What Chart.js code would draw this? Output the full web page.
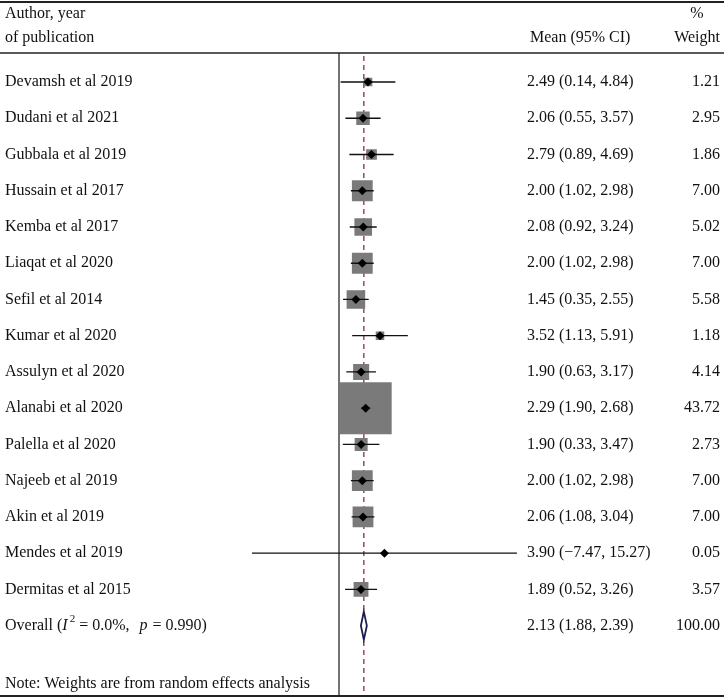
<!DOCTYPE html>
<html>
<head>
<meta charset="utf-8">
<script src="https://cdn.jsdelivr.net/npm/chart.js@4/dist/chart.umd.min.js"></script>
<style>
  body { margin: 0; background: #fff; }
  canvas { display: block; }
</style>
</head>
<body>
<canvas id="forest" width="724" height="699"></canvas>
<script>
const authors = [
  'Devamsh et al 2019', 'Dudani et al 2021', 'Gubbala et al 2019', 'Hussain et al 2017',
  'Kemba et al 2017', 'Liaqat et al 2020', 'Sefil et al 2014', 'Kumar et al 2020',
  'Assulyn et al 2020', 'Alanabi et al 2020', 'Palella et al 2020', 'Najeeb et al 2019',
  'Akin et al 2019', 'Mendes et al 2019', 'Dermitas et al 2015',
];
const means = [2.49, 2.06, 2.79, 2.00, 2.08, 2.00, 1.45, 3.52, 1.90, 2.29, 1.90, 2.00, 2.06, 3.90, 1.89];
const lows = [0.14, 0.55, 0.89, 1.02, 0.92, 1.02, 0.35, 1.13, 0.63, 1.90, 0.33, 1.02, 1.08, -7.47, 0.52];
const highs = [4.84, 3.57, 4.69, 2.98, 3.24, 2.98, 2.55, 5.91, 3.17, 2.68, 3.47, 2.98, 3.04, 15.27, 3.26];
const weights = [1.21, 2.95, 1.86, 7.00, 5.02, 7.00, 5.58, 1.18, 4.14, 43.72, 2.73, 7.00, 7.00, 0.05, 3.57];

const overallMean = 2.13;
const overallLow = 1.88;
const overallHigh = 2.39;
const overallWeight = '100.00';

const font = '16px "Liberation Serif", "DejaVu Serif", serif';
const italicFont = 'italic 16px "Liberation Serif", "DejaVu Serif", serif';
const smallFont = '11px "Liberation Serif", "DejaVu Serif", serif';

const fmt = (v) => v.toFixed(2).replace('-', '\u2212');

const overallRow = authors.length;
const noteRow = authors.length + 1.6;

// box side in px, area proportional to weight
const maxWeight = Math.max(...weights);
const boxRadius = weights.map((w) => (52 * Math.sqrt(w / maxWeight)) / Math.SQRT2);

const ciData = [];
authors.forEach((a, i) => {
  ciData.push({ x: lows[i], y: i }, { x: highs[i], y: i }, { x: null, y: null });
});

const forestPlugin = {
  id: 'forest',
  beforeDatasetsDraw(chart) {
    const { ctx, scales: { x, y } } = chart;
    const top = y.top;
    const bottom = y.bottom;
    ctx.save();
    // null line
    ctx.strokeStyle = '#444';
    ctx.lineWidth = 1.5;
    ctx.beginPath();
    ctx.moveTo(x.getPixelForValue(0), top);
    ctx.lineTo(x.getPixelForValue(0), bottom);
    ctx.stroke();
    // overall estimate dashed line
    ctx.strokeStyle = '#9a4a5c';
    ctx.setLineDash([5, 4]);
    ctx.beginPath();
    ctx.moveTo(x.getPixelForValue(overallMean), top + 3);
    ctx.lineTo(x.getPixelForValue(overallMean), bottom);
    ctx.stroke();
    ctx.restore();
  },
  afterDatasetsDraw(chart) {
    const { ctx, scales: { x, y } } = chart;
    ctx.save();
    // overall diamond
    const yc = y.getPixelForValue(overallRow);
    ctx.beginPath();
    ctx.moveTo(x.getPixelForValue(overallLow), yc);
    ctx.lineTo(x.getPixelForValue(overallMean), yc - 14);
    ctx.lineTo(x.getPixelForValue(overallHigh), yc);
    ctx.lineTo(x.getPixelForValue(overallMean), yc + 14);
    ctx.closePath();
    ctx.fillStyle = '#fff';
    ctx.fill();
    ctx.strokeStyle = '#1c1c4e';
    ctx.lineWidth = 1.8;
    ctx.stroke();
    ctx.restore();
  },
  afterDraw(chart) {
    const { ctx, scales: { y } } = chart;
    const W = chart.width;
    ctx.save();
    // rules
    ctx.strokeStyle = '#222';
    ctx.lineWidth = 2;
    ctx.beginPath();
    ctx.moveTo(0, 2); ctx.lineTo(W, 2);
    ctx.moveTo(0, 696); ctx.lineTo(W, 696);
    ctx.stroke();
    ctx.lineWidth = 1.5;
    ctx.beginPath();
    ctx.moveTo(0, 53); ctx.lineTo(W, 53);
    ctx.stroke();

    ctx.fillStyle = '#111';
    ctx.font = font;
    ctx.textBaseline = 'middle';
    // header
    ctx.textAlign = 'left';
    ctx.fillText('Author, year', 5, 14);
    ctx.fillText('of publication', 5, 38);
    ctx.fillText('Mean (95% CI)', 530, 38);
    ctx.textAlign = 'center';
    ctx.fillText('%', 697, 14);
    ctx.textAlign = 'right';
    ctx.fillText('Weight', 720, 38);

    // rows
    authors.forEach((a, i) => {
      const py = y.getPixelForValue(i);
      ctx.textAlign = 'left';
      ctx.fillText(a, 5, py);
      ctx.fillText(`${fmt(means[i])} (${fmt(lows[i])}, ${fmt(highs[i])})`, 527, py);
      ctx.textAlign = 'right';
      ctx.fillText(weights[i].toFixed(2), 720, py);
    });

    // overall row with italic I^2 and p
    const oy = y.getPixelForValue(overallRow);
    ctx.textAlign = 'left';
    let cx = 5;
    const part = (txt, f, dy = 0, gap = 0) => {
      ctx.font = f;
      ctx.fillText(txt, cx, oy + dy);
      cx += ctx.measureText(txt).width + gap;
    };
    part('Overall (', font);
    part('I', italicFont, 0, 2);
    part('2', smallFont, -7, 4);
    part('=', font, 0, 4);
    part('0.0%,', font, 0, 10);
    part('p', italicFont, 0, 5);
    part('=', font, 0, 4);
    part('0.990)', font);
    ctx.font = font;
    ctx.fillText(`${fmt(overallMean)} (${fmt(overallLow)}, ${fmt(overallHigh)})`, 527, oy);
    ctx.textAlign = 'right';
    ctx.fillText(overallWeight, 720, oy);

    ctx.textAlign = 'left';
    ctx.fillText('Note: Weights are from random effects analysis', 5, y.getPixelForValue(noteRow));
    ctx.restore();
  },
};

new Chart(document.getElementById('forest'), {
  type: 'scatter',
  data: {
    datasets: [
      {
        label: 'Estimate',
        data: means.map((m, i) => ({ x: m, y: i })),
        pointStyle: 'rectRot',
        pointRadius: 4.5,
        backgroundColor: '#000',
        borderColor: '#000',
        borderWidth: 0,
      },
      {
        label: 'CI',
        data: ciData,
        showLine: true,
        spanGaps: false,
        pointRadius: 0,
        borderColor: '#111',
        borderWidth: 1.3,
      },
      {
        label: 'Weight',
        data: means.map((m, i) => ({ x: m, y: i })),
        pointStyle: 'rect',
        pointRadius: boxRadius,
        backgroundColor: '#7a7a7a',
        borderColor: '#7a7a7a',
        borderWidth: 0,
      },
    ],
  },
  options: {
    responsive: false,
    animation: false,
    events: [],
    layout: {
      autoPadding: false,
      padding: { left: 245.8, right: 198.6, top: 53, bottom: 3 },
    },
    plugins: {
      legend: { display: false },
      tooltip: { enabled: false },
    },
    scales: {
      x: { type: 'linear', min: -8, max: 16, display: false },
      y: { type: 'linear', min: -0.8, max: 16.94, reverse: true, display: false },
    },
  },
  plugins: [forestPlugin],
});
</script>
</body>
</html>
